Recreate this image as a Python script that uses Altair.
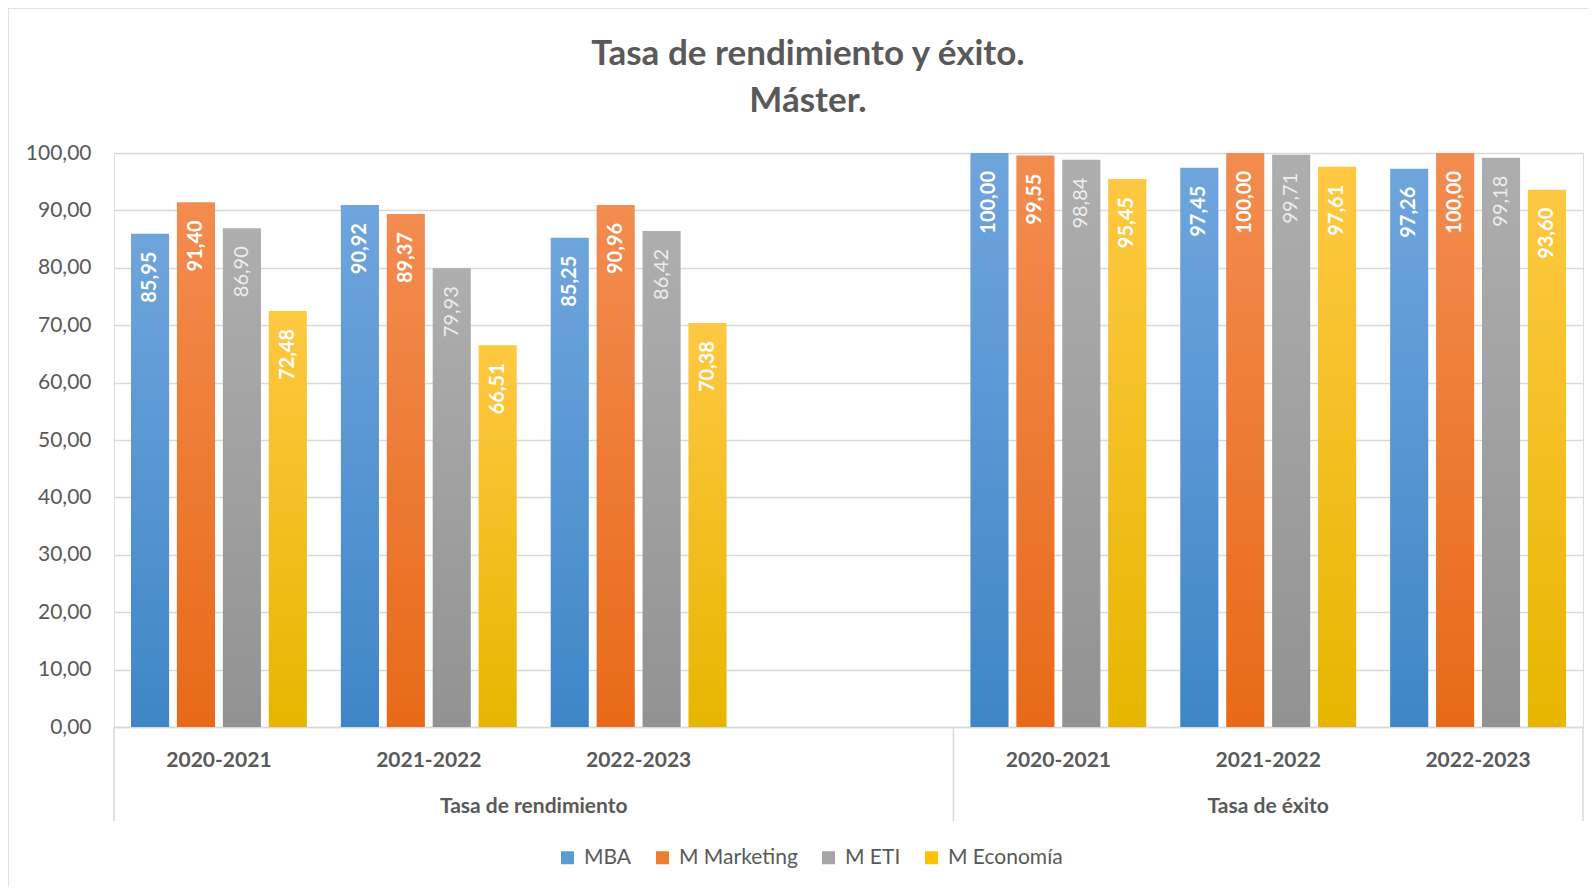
import altair as alt
import pandas as pd

# ---- data ----
series = ["MBA", "M Marketing", "M ETI", "M Economía"]
slots = ["2020-2021|R", "2021-2022|R", "2022-2023|R", "|R",
         "2020-2021|E", "2021-2022|E", "2022-2023|E"]
data_slots = ["2020-2021|R", "2021-2022|R", "2022-2023|R",
              "2020-2021|E", "2021-2022|E", "2022-2023|E"]
mba = [85.95, 90.92, 85.25, 100.00, 97.45, 97.26]
marketing = [91.40, 89.37, 90.96, 99.55, 100.00, 100.00]
eti = [86.90, 79.93, 86.42, 98.84, 99.71, 99.18]
economia = [72.48, 66.51, 70.38, 95.45, 97.61, 93.60]
groups = ["Tasa de rendimiento", "Tasa de éxito"]
group_center = [2.0, 5.5]
divider_pos = [0, 4, 7]
title_lines = ["Tasa de rendimiento y éxito.", "Máster."]

values = {"MBA": mba, "M Marketing": marketing, "M ETI": eti, "M Economía": economia}
rows = []
for s in series:
    for slot, v in zip(data_slots, values[s]):
        rows.append({"slot": slot, "series": s, "value": v})
df = pd.DataFrame(rows)

grad = {
    "MBA": ("#6FA5DD", "#3F86C7"),
    "M Marketing": ("#F38C50", "#E86A18"),
    "M ETI": ("#AEAEAE", "#929292"),
    "M Economía": ("#FFC842", "#E6B600"),
}
legend_colors = ["#5B9BD5", "#ED7D31", "#A5A5A5", "#FFC000"]

W, H = 1469, 574
FONT = "Lato"
GREY = "#595959"
GRID = "#D9D9D9"

x_enc = alt.X("slot:N", scale=alt.Scale(domain=slots, paddingInner=0.162, paddingOuter=0.081),
              sort=slots,
              axis=alt.Axis(title=None, labelExpr="split(datum.value, '|')[0]", labelAngle=0,
                            ticks=False, tickSize=0, labelPadding=33, labelBaseline="middle",
                            labelFont=FONT, labelFontSize=21, labelFontWeight="bold",
                            labelColor=GREY, domainColor=GRID, domainWidth=1.5, grid=False))
xo_enc = alt.XOffset("series:N", scale=alt.Scale(domain=series, paddingInner=0.17, paddingOuter=0))
y_enc = alt.Y("value:Q", scale=alt.Scale(domain=[0, 100], nice=False),
              axis=alt.Axis(title=None, values=list(range(0, 101, 10)),
                            labelExpr="replace(format(datum.value, '.2f'), '.', ',')",
                            labelFont=FONT, labelFontSize=21, labelColor=GREY,
                            labelPadding=23, ticks=False, tickSize=0, domain=False,
                            gridColor=GRID, gridWidth=1.3))

base = alt.Chart(df)
layers = []
for s in series:
    top, bot = grad[s]
    layers.append(
        base.transform_filter(alt.datum.series == s).mark_bar(
            color=alt.Gradient(gradient="linear", x1=0, x2=0, y1=0, y2=1,
                               stops=[alt.GradientStop(color=top, offset=0),
                                      alt.GradientStop(color=bot, offset=1)])
        ).encode(x=x_enc, xOffset=xo_enc, y=y_enc)
    )

lab = base.transform_calculate(lbl="replace(format(datum.value, '.2f'), '.', ',')")
txt_bold = lab.transform_filter(alt.datum.series != "M ETI").mark_text(
    angle=270, align="right", baseline="middle", dx=-18, font=FONT, fontSize=20,
    fontWeight="bold", color="white"
).encode(x=x_enc, xOffset=xo_enc, y=y_enc, text="lbl:N")
txt_eti = lab.transform_filter(alt.datum.series == "M ETI").mark_text(
    angle=270, align="right", baseline="middle", dx=-18, font=FONT, fontSize=20,
    fontWeight="normal", color="#EEEEEE"
).encode(x=x_enc, xOffset=xo_enc, y=y_enc, text="lbl:N")

legend_layer = base.mark_square(opacity=0).encode(
    x=x_enc, y=y_enc,
    color=alt.Color("series:N", scale=alt.Scale(domain=series, range=legend_colors),
                    legend=alt.Legend(title=None, orient="none", direction="horizontal",
                                      legendX=443, legendY=694, symbolType="square",
                                      symbolSize=169, symbolOpacity=1, symbolStrokeWidth=0,
                                      labelFont=FONT, labelFontSize=21, labelColor=GREY,
                                      labelOffset=6, columnPadding=20))
)

main = alt.layer(*layers, txt_bold, txt_eti, legend_layer)

qx = alt.X("pos:Q", scale=alt.Scale(domain=[0, 7], nice=False, zero=False), axis=None)
div_df = pd.DataFrame({"pos": divider_pos})
dividers = alt.Chart(div_df).mark_rule(color=GRID, strokeWidth=1.5).encode(
    x=qx, y=alt.value(H), y2=alt.value(H + 94))
grp_df = pd.DataFrame({"pos": group_center, "label": groups})
grp_text = alt.Chart(grp_df).mark_text(font=FONT, fontSize=21, fontWeight="bold",
                                       color=GREY, baseline="middle").encode(
    x=qx, y=alt.value(H + 80), text="label:N")
border_df = pd.DataFrame({"k": [0]})
border_left = alt.Chart(border_df).mark_rule(color=GRID, strokeWidth=1.5).encode(
    x=alt.value(-106), y=alt.value(-145), y2=alt.value(H + 160))
border_top = alt.Chart(border_df).mark_rule(color=GRID, strokeWidth=1.5).encode(
    x=alt.value(-106), x2=alt.value(W + 5), y=alt.value(-145))
t1 = alt.Chart(pd.DataFrame({"t": [title_lines[0]]})).mark_text(
    font=FONT, fontSize=35, fontWeight="bold", color=GREY, baseline="middle"
).encode(x=alt.value(694), y=alt.value(-99), text="t:N")
t2 = alt.Chart(pd.DataFrame({"t": [title_lines[1]]})).mark_text(
    font=FONT, fontSize=35, fontWeight="bold", color=GREY, baseline="middle"
).encode(x=alt.value(694), y=alt.value(-52), text="t:N")
extra = alt.layer(dividers, grp_text, border_left, border_top, t1, t2)

chart = alt.layer(main, extra).resolve_scale(x="independent").resolve_axis(x="independent").properties(
    width=W, height=H,
    autosize=alt.AutoSizeParams(type="none"),
    padding={"left": 106, "top": 145, "right": 5, "bottom": 160},
).configure_view(stroke=None).configure(background="white")

chart.save("out.html", embed_options={"renderer": "svg", "actions": False})
